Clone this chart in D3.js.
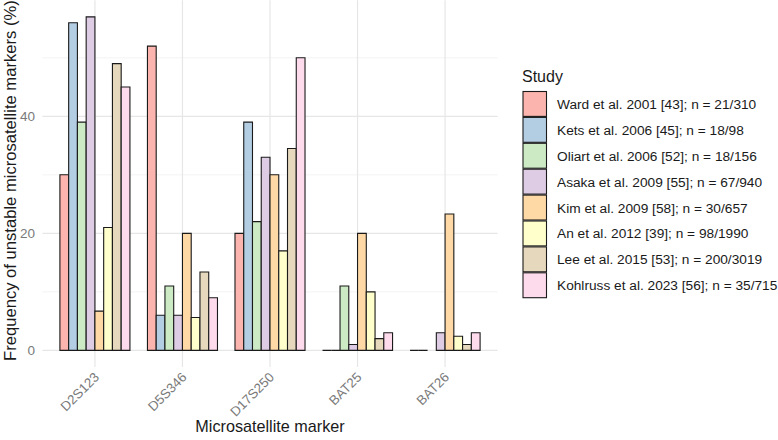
<!DOCTYPE html>
<html><head><meta charset="utf-8">
<script src="https://cdn.jsdelivr.net/npm/d3@7"></script>
<style>
body{margin:0;background:#fff;}
text{font-family:"Liberation Sans",Arial,sans-serif;}
</style></head>
<body><svg id="c" width="778" height="440"></svg>
<script>
const markers = ["D2S123","D5S346","D17S250","BAT25","BAT26"];
const studies = [
 "Ward et al. 2001 [43]; n = 21/310",
 "Kets et al. 2006 [45]; n = 18/98",
 "Oliart et al. 2006 [52]; n = 18/156",
 "Asaka et al. 2009 [55]; n = 67/940",
 "Kim et al. 2009 [58]; n = 30/657",
 "An et al. 2012 [39]; n = 98/1990",
 "Lee et al. 2015 [53]; n = 200/3019",
 "Kohlruss et al. 2023 [56]; n = 35/715"
];
// values per study across markers (null = not reported)
const ward     = [30, 52, 20, 0, 0];
const kets     = [56, 6, 39, 0, 0];
const oliart   = [39, 11, 22, 11, null];
const asaka    = [57, 6, 33, 1, 3];
const kim      = [6.7, 20, 30, 20, 23.3];
const an       = [21, 5.6, 17, 10, 2.4];
const lee      = [49, 13.4, 34.5, 2, 1];
const kohlruss = [45, 9, 50, 3, 3];
const seriesValues = [ward, kets, oliart, asaka, kim, an, lee, kohlruss];
const colors = ["#FBB4AE","#B3CDE3","#CCEBC5","#DECBE4","#FED9A6","#FFFFCC","#E5D8BD","#FDDAEC"];
const yTicks = [0, 20, 40];
const yMinor = [10, 30, 50];

const svg = d3.select("#c");
const L = 42.4, R = 497.6, T = 0.2, B = 367;
const x = d3.scalePoint().domain(markers).range([L, R]).padding(0.6);
const step = x.step();
const xi = d3.scaleBand().domain(d3.range(studies.length)).range([-0.4*step, 0.4*step]);
const y = d3.scaleLinear().domain([-2.85, 59.85]).range([B, T]);

const g = svg.append("g");
// grid
g.selectAll(".ymin").data(yMinor).enter().append("line")
 .attr("x1", L).attr("x2", R).attr("y1", d=>y(d)).attr("y2", d=>y(d))
 .attr("stroke", "#f0f0f0").attr("stroke-width", 0.8);
g.selectAll(".ymaj").data(yTicks).enter().append("line")
 .attr("x1", L).attr("x2", R).attr("y1", d=>y(d)).attr("y2", d=>y(d))
 .attr("stroke", "#e6e6e6").attr("stroke-width", 1.2);
g.selectAll(".xmaj").data(markers).enter().append("line")
 .attr("x1", d=>x(d)).attr("x2", d=>x(d)).attr("y1", T).attr("y2", B)
 .attr("stroke", "#e6e6e6").attr("stroke-width", 1.2);

// bars
const bars = [];
seriesValues.forEach((vals, si) => vals.forEach((v, mi) => {
  if (v !== null) bars.push({si, m: markers[mi], v});
}));
g.selectAll(".bar").data(bars).enter().append("path")
 .attr("d", d => {
   const x0 = x(d.m) + xi(d.si), w = xi.bandwidth();
   const y0 = y(0), y1 = y(d.v);
   return `M${x0},${y0}L${x0},${y1}L${x0+w},${y1}L${x0+w},${y0}Z`;
 })
 .attr("fill", d => colors[d.si]).attr("stroke", "#1a1a1a").attr("stroke-width", 1.1);

// y axis labels
g.selectAll(".yl").data(yTicks).enter().append("text")
 .attr("x", 35).attr("y", d=>y(d)+5).attr("text-anchor","end")
 .attr("font-size", 13.5).attr("fill", "#7a7a7a").text(d=>d);
// x axis labels
g.selectAll(".xl").data(markers).enter().append("text")
 .attr("transform", d=>`translate(${x(d)+5},${378}) rotate(-45)`)
 .attr("text-anchor","end").attr("font-size", 13.3).attr("fill", "#7a7a7a").text(d=>d);

// titles
svg.append("text").attr("transform", `translate(15.5,${(T+B)/2 - 3}) rotate(-90)`)
 .attr("text-anchor","middle").attr("font-size", 16.6).attr("fill","#1a1a1a")
 .text("Frequency of unstable microsatellite markers (%)");
svg.append("text").attr("x", (L+R)/2).attr("y", 432).attr("text-anchor","middle")
 .attr("font-size", 16.2).attr("fill","#1a1a1a").text("Microsatellite marker");

// legend
const lg = svg.append("g").attr("transform","translate(522,0)");
lg.append("text").attr("x", 0).attr("y", 82).attr("font-size", 16).attr("fill","#1a1a1a").text("Study");
const keyH = 25.9, keyTop = 91;
const items = lg.selectAll(".li").data(studies).enter().append("g")
 .attr("transform", (d,i)=>`translate(0,${keyTop + i*keyH})`);
items.append("rect").attr("x", 1).attr("y", 0.5).attr("width", 23.5).attr("height", keyH-1)
 .attr("fill", (d,i)=>colors[i]).attr("stroke","#1a1a1a").attr("stroke-width",1.1);
items.append("text").attr("x", 35).attr("y", keyH/2+5).attr("font-size", 13.7)
 .attr("fill","#1a1a1a").text(d=>d);
</script></body></html>
